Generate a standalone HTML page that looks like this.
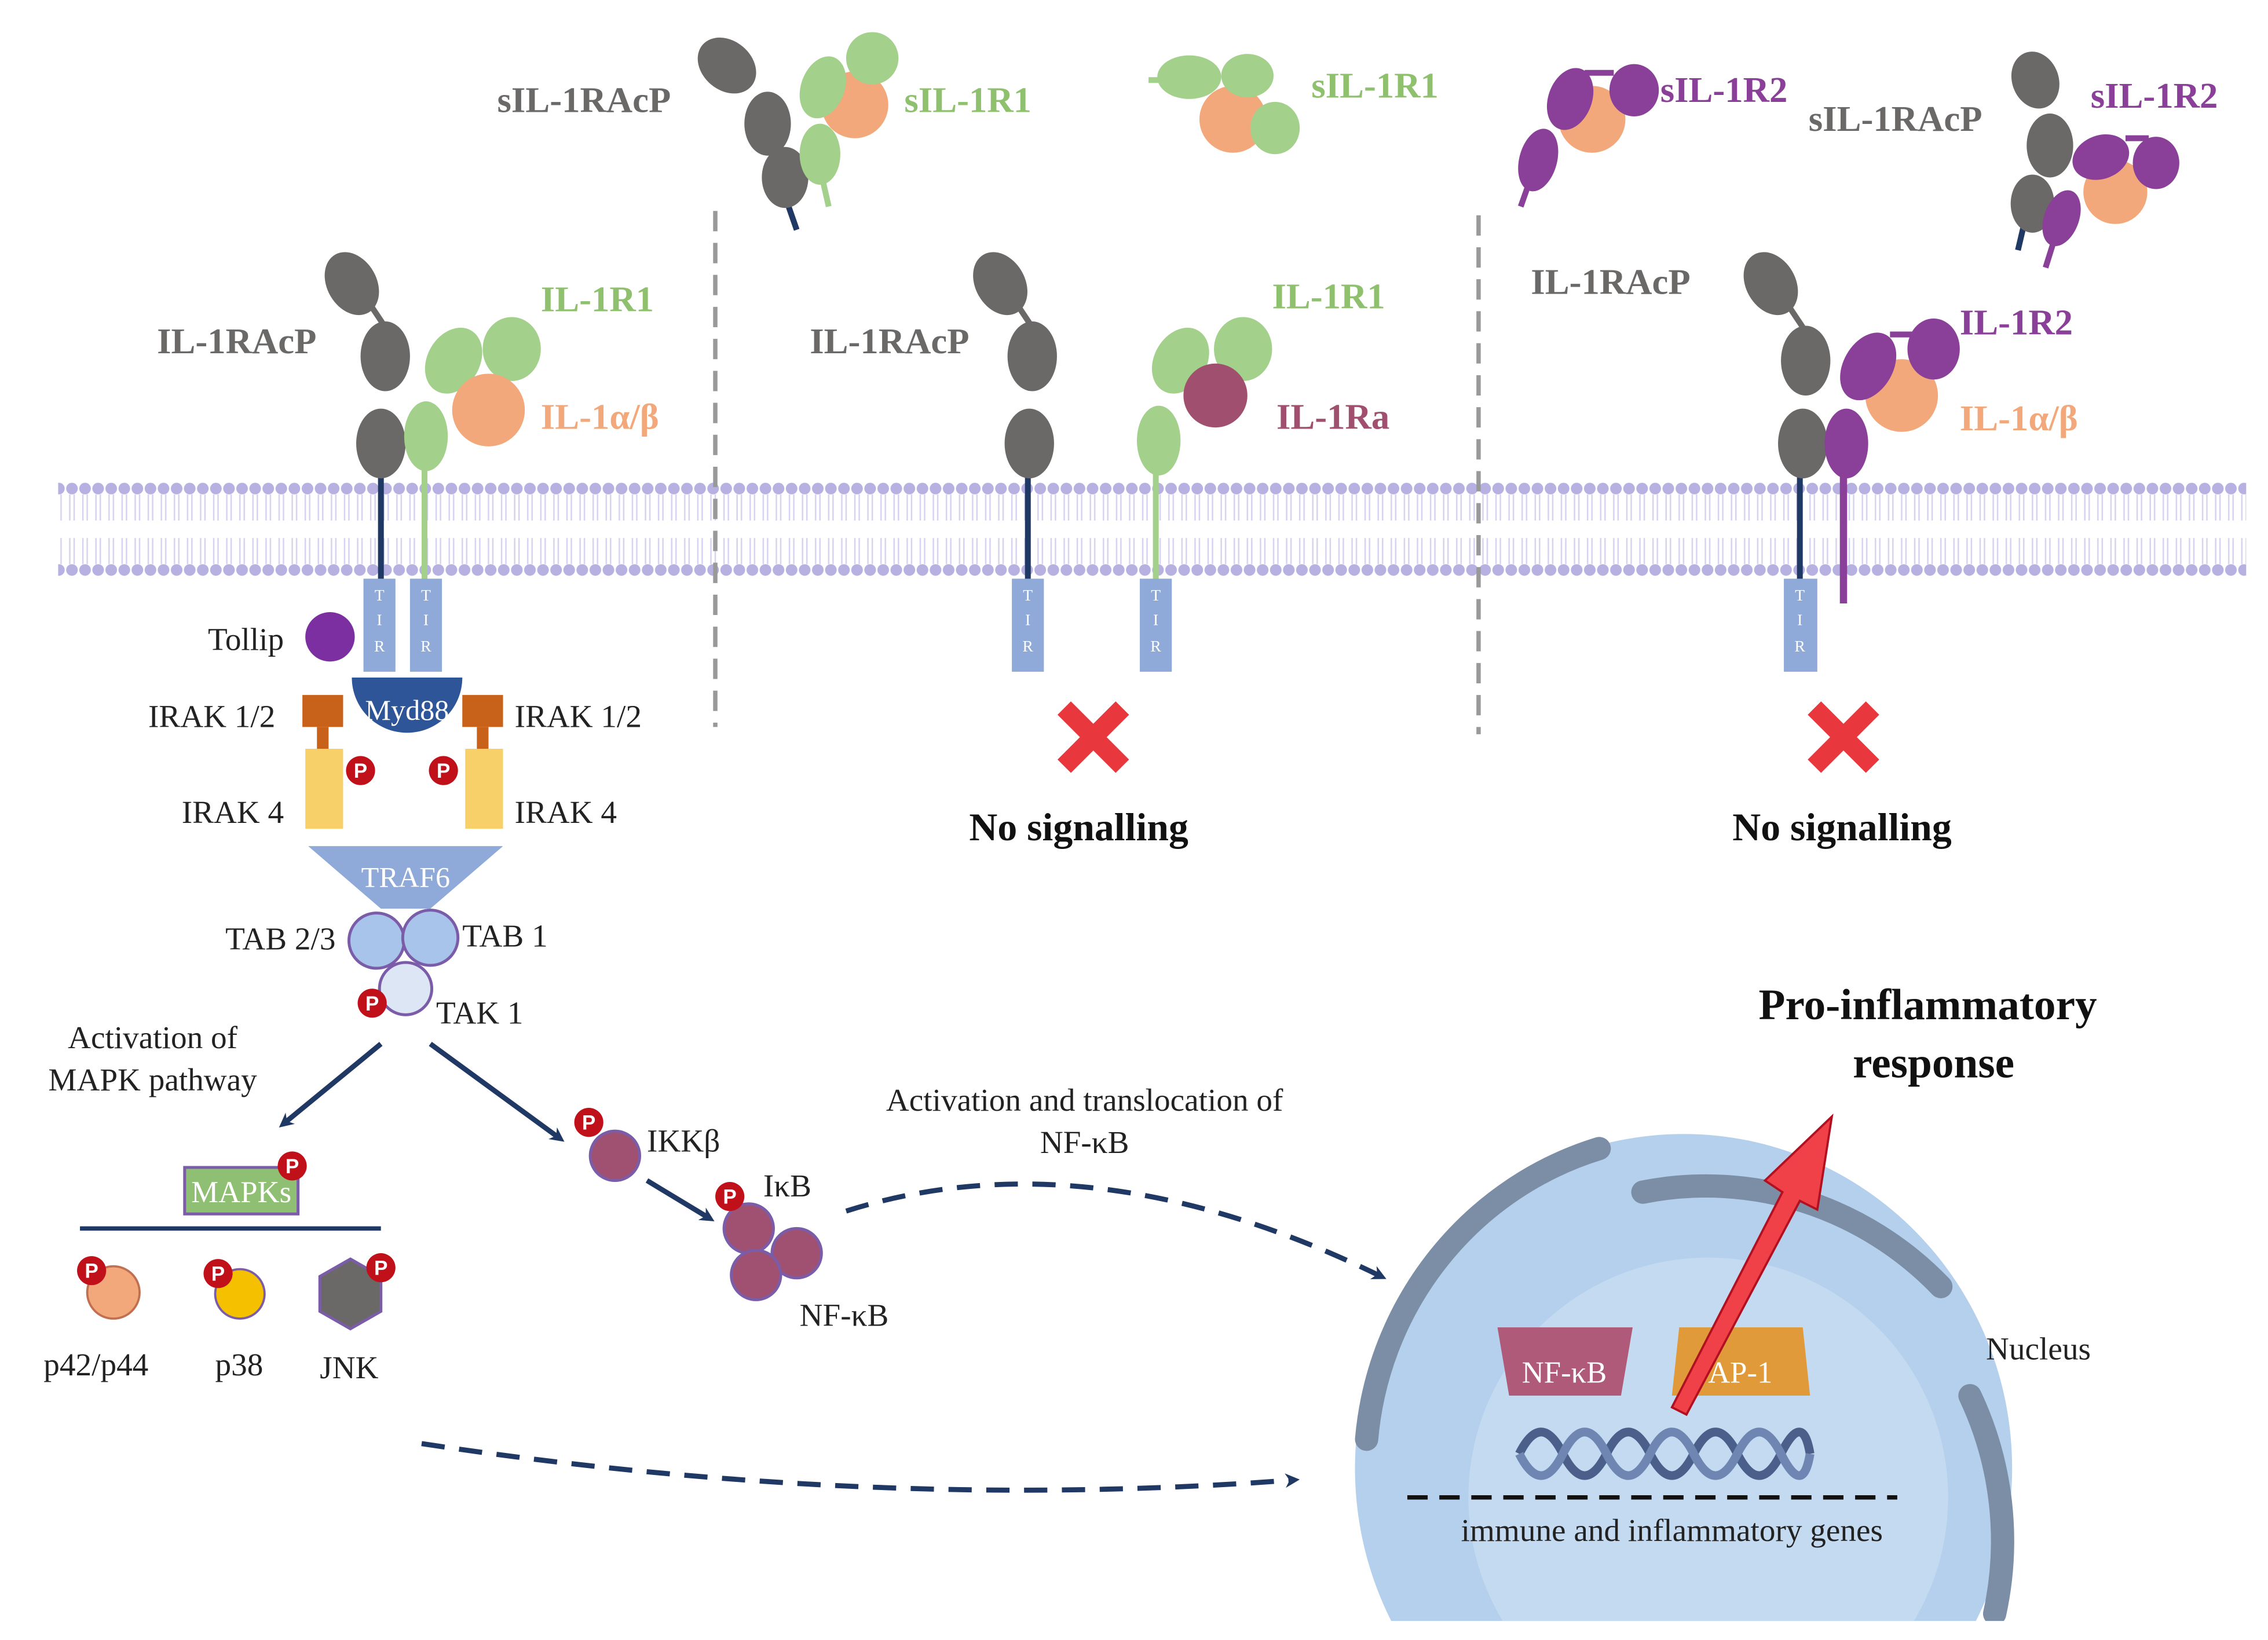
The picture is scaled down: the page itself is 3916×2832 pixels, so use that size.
<!DOCTYPE html>
<html><head><meta charset="utf-8"><style>html,body{margin:0;padding:0;background:#fff;overflow:hidden;width:3916px;height:2832px}svg{display:block}</style></head>
<body>
<svg width="3916" height="2832" viewBox="0 0 1560 1128" xmlns="http://www.w3.org/2000/svg" font-family="'Liberation Serif', serif">
<defs>
<pattern id="lip" x="0" y="330" width="9" height="70" patternUnits="userSpaceOnUse">
<circle cx="4.5" cy="6" r="4" fill="#b7b1e2"/>
<circle cx="4.5" cy="62" r="4" fill="#b7b1e2"/>
<path d="M3 10 L3 28 M6 10 L6 28 M3 40 L3 58 M6 40 L6 58" stroke="#d6d2f0" stroke-width="1"/>
</pattern>
<marker id="ah" markerWidth="10" markerHeight="10" refX="6" refY="5" orient="auto" markerUnits="userSpaceOnUse"><path d="M0 0 L10 5 L0 10 L3 5 Z" fill="#1f3864"/></marker>
<clipPath id="nc"><rect x="0" y="0" width="1560" height="1115"/></clipPath>
</defs>
<rect x="40" y="330" width="1505" height="70" fill="url(#lip)"/>
<line x1="492" y1="145" x2="492" y2="500" stroke="#999" stroke-width="3" stroke-dasharray="14,8"/>
<line x1="1017" y1="148" x2="1017" y2="505" stroke="#999" stroke-width="3" stroke-dasharray="14,8"/>

<!-- LEFT receptor -->
<line x1="262" y1="325" x2="262" y2="400" stroke="#1f3864" stroke-width="4"/>
<line x1="292" y1="320" x2="292" y2="400" stroke="#a3d08a" stroke-width="4"/>
<g fill="#6b6868"><ellipse cx="242" cy="195" rx="17" ry="23" transform="rotate(-30 242 195)"/><line x1="255" y1="210" x2="265" y2="225" stroke="#6b6868" stroke-width="4"/><ellipse cx="265" cy="245" rx="17" ry="24"/><ellipse cx="262" cy="305" rx="17" ry="24"/></g>
<g fill="#a3d08a"><ellipse cx="312" cy="248" rx="18" ry="24" transform="rotate(30 312 248)"/><ellipse cx="352" cy="240" rx="20" ry="22"/><ellipse cx="293" cy="300" rx="15" ry="24"/></g>
<circle cx="336" cy="282" r="25" fill="#f2a87a"/>
<rect x="250" y="398" width="22" height="64" fill="#8fa9d8"/><rect x="282" y="398" width="22" height="64" fill="#8fa9d8"/>
<g font-size="11" fill="#fff" text-anchor="middle"><text x="261" y="413">T</text><text x="261" y="430">I</text><text x="261" y="448">R</text><text x="293" y="413">T</text><text x="293" y="430">I</text><text x="293" y="448">R</text></g>
<circle cx="227" cy="438" r="17" fill="#7b2fa0"/>
<path d="M242 466 A38 38 0 0 0 318 466 Z" fill="#2d5597"/>
<text x="280" y="495" font-size="20" fill="#fff" text-anchor="middle">Myd88</text>
<rect x="208" y="478" width="28" height="22" fill="#c8621b"/><rect x="218" y="500" width="8" height="16" fill="#c8621b"/>
<rect x="318" y="478" width="28" height="22" fill="#c8621b"/><rect x="328" y="500" width="8" height="16" fill="#c8621b"/>
<rect x="210" y="515" width="26" height="55" fill="#f7d06a"/><rect x="320" y="515" width="26" height="55" fill="#f7d06a"/>
<path d="M212 582 L346 582 L296 625 L262 625 Z" fill="#8fa9d8"/>
<text x="279" y="610" font-size="20" fill="#fff" text-anchor="middle">TRAF6</text>
<g stroke="#7a5ca8" stroke-width="2"><circle cx="259" cy="647" r="19" fill="#a9c4ea"/><circle cx="296" cy="645" r="19" fill="#a9c4ea"/><circle cx="279" cy="680" r="18" fill="#dde6f5"/></g>
<g font-size="22" fill="#222">
<text x="143" y="447">Tollip</text>
<text x="102" y="500">IRAK 1/2</text><text x="354" y="500">IRAK 1/2</text>
<text x="125" y="566">IRAK 4</text><text x="354" y="566">IRAK 4</text>
<text x="155" y="653">TAB 2/3</text><text x="318" y="651">TAB 1</text>
<text x="300" y="704">TAK 1</text>
<text x="105" y="721" text-anchor="middle">Activation of</text><text x="105" y="750" text-anchor="middle">MAPK pathway</text>
<text x="30" y="946">p42/p44</text><text x="148" y="946">p38</text><text x="220" y="948">JNK</text>
<text x="445" y="792">IKKβ</text><text x="525" y="823">IκB</text><text x="550" y="912">NF-κB</text>
<text x="746" y="764" text-anchor="middle">Activation and translocation of</text><text x="746" y="793" text-anchor="middle">NF-κB</text>
</g>
<line x1="262" y1="718" x2="195" y2="773" stroke="#1f3864" stroke-width="3.5" marker-end="url(#ah)"/>
<line x1="296" y1="718" x2="385" y2="783" stroke="#1f3864" stroke-width="3.5" marker-end="url(#ah)"/>
<rect x="127" y="803" width="78" height="32" fill="#8fbf73" stroke="#7a5ca8" stroke-width="2"/>
<text x="166" y="827" font-size="21" fill="#fff" text-anchor="middle">MAPKs</text>
<line x1="55" y1="845" x2="262" y2="845" stroke="#1f3864" stroke-width="3"/>
<circle cx="78" cy="889" r="18" fill="#f2a87a" stroke="#c07050" stroke-width="1.5"/>
<circle cx="165" cy="890" r="17" fill="#f5c000" stroke="#7a5ca8" stroke-width="1.5"/>
<polygon points="241,866 262,878 262,902 241,914 220,902 220,878" fill="#6b6868" stroke="#7a5ca8" stroke-width="2"/>
<g stroke="#7a5ca8" stroke-width="2" fill="#a05070"><circle cx="423" cy="795" r="17"/><circle cx="515" cy="845" r="17"/><circle cx="548" cy="862" r="17"/><circle cx="520" cy="877" r="17"/></g>
<line x1="445" y1="812" x2="488" y2="838" stroke="#1f3864" stroke-width="3.5" marker-end="url(#ah)"/>
<g font-size="14" font-weight="bold" fill="#fff" text-anchor="middle" font-family="'Liberation Sans',sans-serif">
<g><circle cx="248" cy="530" r="10" fill="#c0101a"/><text x="248" y="535">P</text></g>
<g><circle cx="305" cy="530" r="10" fill="#c0101a"/><text x="305" y="535">P</text></g>
<g><circle cx="256" cy="690" r="10" fill="#c0101a"/><text x="256" y="695">P</text></g>
<g><circle cx="201" cy="802" r="10" fill="#c0101a"/><text x="201" y="807">P</text></g>
<g><circle cx="63" cy="874" r="10" fill="#c0101a"/><text x="63" y="879">P</text></g>
<g><circle cx="150" cy="876" r="10" fill="#c0101a"/><text x="150" y="881">P</text></g>
<g><circle cx="262" cy="872" r="10" fill="#c0101a"/><text x="262" y="877">P</text></g>
<g><circle cx="405" cy="772" r="10" fill="#c0101a"/><text x="405" y="777">P</text></g>
<g><circle cx="502" cy="823" r="10" fill="#c0101a"/><text x="502" y="828">P</text></g>
</g>
<path d="M582 833 Q750 780 950 878" fill="none" stroke="#1f3864" stroke-width="3.5" stroke-dasharray="16,10" marker-end="url(#ah)"/>
<path d="M290 993 Q600 1040 890 1018" fill="none" stroke="#1f3864" stroke-width="3.5" stroke-dasharray="16,10" marker-end="url(#ah)"/>

<!-- nucleus -->
<g clip-path="url(#nc)">
<ellipse cx="1158" cy="1010" rx="226" ry="230" fill="#b4d0ec"/>
<circle cx="1175" cy="1030" r="165" fill="#c3daf0"/>
<g fill="none" stroke="#7b8ea6" stroke-width="16" stroke-linecap="round">
<path d="M940 990 A226 230 0 0 1 1100 790"/>
<path d="M1130 820 A226 230 0 0 1 1335 885"/>
<path d="M1355 960 A226 230 0 0 1 1372 1110"/>
</g>
</g>
<text x="1366" y="935" font-size="22" fill="#222">Nucleus</text>
<path d="M1030 913 L1123 913 L1115 960 L1038 960 Z" fill="#b05a7a"/>
<path d="M1155 913 L1240 913 L1245 960 L1150 960 Z" fill="#e09a3a"/>
<text x="1076" y="951" font-size="21" fill="#fff" text-anchor="middle">NF-κB</text>
<text x="1197" y="951" font-size="21" fill="#fff" text-anchor="middle">AP-1</text>
<path d="M1045 1000 Q1060 970 1075 1000 T1105 1000 T1135 1000 T1165 1000 T1195 1000 T1225 1000 T1245 1000" fill="none" stroke="#4a5f8a" stroke-width="6"/>
<path d="M1045 1000 Q1060 1030 1075 1000 T1105 1000 T1135 1000 T1165 1000 T1195 1000 T1225 1000 T1245 1000" fill="none" stroke="#6f86b3" stroke-width="6"/>
<line x1="968" y1="1030" x2="1305" y2="1030" stroke="#111" stroke-width="3" stroke-dasharray="14,8"/>
<text x="1150" y="1060" font-size="22" fill="#222" text-anchor="middle">immune and inflammatory genes</text>
<path d="M1150 968 L1226 820 L1214 812 L1260 768 L1250 832 L1238 826 L1160 973 Z" fill="#f04048" stroke="#b01020" stroke-width="1.5"/>
<text x="1326" y="701" font-size="30" font-weight="bold" fill="#111" text-anchor="middle">Pro-inflammatory</text>
<text x="1330" y="741" font-size="30" font-weight="bold" fill="#111" text-anchor="middle">response</text>

<!-- MIDDLE receptor -->
<line x1="707" y1="325" x2="707" y2="400" stroke="#1f3864" stroke-width="4"/>
<line x1="795" y1="320" x2="795" y2="400" stroke="#a3d08a" stroke-width="4"/>
<g fill="#6b6868"><ellipse cx="688" cy="195" rx="17" ry="23" transform="rotate(-30 688 195)"/><line x1="700" y1="210" x2="710" y2="225" stroke="#6b6868" stroke-width="4"/><ellipse cx="710" cy="245" rx="17" ry="24"/><ellipse cx="708" cy="305" rx="17" ry="24"/></g>
<g fill="#a3d08a"><ellipse cx="812" cy="248" rx="18" ry="24" transform="rotate(30 812 248)"/><ellipse cx="855" cy="240" rx="20" ry="22"/><ellipse cx="797" cy="303" rx="15" ry="24"/></g>
<circle cx="836" cy="272" r="22" fill="#a0506e"/>
<rect x="696" y="398" width="22" height="64" fill="#8fa9d8"/><rect x="784" y="398" width="22" height="64" fill="#8fa9d8"/>
<g font-size="11" fill="#fff" text-anchor="middle"><text x="707" y="413">T</text><text x="707" y="430">I</text><text x="707" y="448">R</text><text x="795" y="413">T</text><text x="795" y="430">I</text><text x="795" y="448">R</text></g>
<path d="M732 487 L772 527 M772 487 L732 527" stroke="#e8383d" stroke-width="13"/>
<text x="742" y="578" font-size="27" font-weight="bold" fill="#111" text-anchor="middle">No signalling</text>

<!-- RIGHT receptor -->
<line x1="1238" y1="325" x2="1238" y2="400" stroke="#1f3864" stroke-width="4"/>
<line x1="1268" y1="320" x2="1268" y2="415" stroke="#8a3f98" stroke-width="5"/>
<g fill="#6b6868"><ellipse cx="1218" cy="195" rx="17" ry="23" transform="rotate(-30 1218 195)"/><line x1="1230" y1="210" x2="1240" y2="225" stroke="#6b6868" stroke-width="4"/><ellipse cx="1242" cy="248" rx="17" ry="24"/><ellipse cx="1240" cy="305" rx="17" ry="24"/></g>
<circle cx="1308" cy="272" r="25" fill="#f2a87a"/>
<g fill="#8a3f98"><ellipse cx="1285" cy="252" rx="17" ry="25" transform="rotate(30 1285 252)"/><ellipse cx="1330" cy="240" rx="18" ry="21"/><ellipse cx="1270" cy="305" rx="15" ry="24"/><line x1="1300" y1="230" x2="1318" y2="230" stroke="#8a3f98" stroke-width="4"/></g>
<rect x="1227" y="398" width="23" height="64" fill="#8fa9d8"/>
<g font-size="11" fill="#fff" text-anchor="middle"><text x="1238" y="413">T</text><text x="1238" y="430">I</text><text x="1238" y="448">R</text></g>
<path d="M1248 487 L1288 527 M1288 487 L1248 527" stroke="#e8383d" stroke-width="13"/>
<text x="1267" y="578" font-size="27" font-weight="bold" fill="#111" text-anchor="middle">No signalling</text>

<!-- TOP soluble -->
<line x1="540" y1="135" x2="548" y2="158" stroke="#1f3864" stroke-width="4"/>
<line x1="565" y1="120" x2="570" y2="142" stroke="#a3d08a" stroke-width="4"/>
<g fill="#6b6868"><ellipse cx="500" cy="45" rx="17" ry="22" transform="rotate(-50 500 45)"/><ellipse cx="528" cy="85" rx="16" ry="22"/><ellipse cx="540" cy="122" rx="16" ry="21"/></g>
<circle cx="588" cy="72" r="23" fill="#f2a87a"/>
<g fill="#a3d08a"><ellipse cx="566" cy="60" rx="15" ry="22" transform="rotate(20 566 60)"/><ellipse cx="600" cy="40" rx="18" ry="18"/><ellipse cx="564" cy="106" rx="14" ry="21"/></g>
<line x1="790" y1="55" x2="800" y2="55" stroke="#a3d08a" stroke-width="4"/>
<circle cx="848" cy="82" r="23" fill="#f2a87a"/>
<g fill="#a3d08a"><ellipse cx="818" cy="53" rx="22" ry="15"/><ellipse cx="858" cy="52" rx="18" ry="15"/><ellipse cx="877" cy="88" rx="17" ry="18"/></g>
<circle cx="1095" cy="82" r="23" fill="#f2a87a"/>
<g fill="#8a3f98"><ellipse cx="1080" cy="68" rx="15" ry="22" transform="rotate(20 1080 68)"/><ellipse cx="1124" cy="62" rx="17" ry="18"/><ellipse cx="1058" cy="110" rx="13" ry="22" transform="rotate(15 1058 110)"/><line x1="1090" y1="50" x2="1110" y2="50" stroke="#8a3f98" stroke-width="4"/><line x1="1052" y1="125" x2="1046" y2="142" stroke="#8a3f98" stroke-width="4"/></g>
<line x1="1392" y1="155" x2="1388" y2="172" stroke="#1f3864" stroke-width="4"/>
<g fill="#6b6868"><ellipse cx="1400" cy="55" rx="16" ry="20" transform="rotate(-20 1400 55)"/><ellipse cx="1410" cy="100" rx="16" ry="22"/><ellipse cx="1398" cy="140" rx="15" ry="20"/></g>
<circle cx="1455" cy="132" r="22" fill="#f2a87a"/>
<g fill="#8a3f98"><ellipse cx="1445" cy="108" rx="20" ry="15" transform="rotate(-20 1445 108)"/><ellipse cx="1483" cy="112" rx="16" ry="18"/><ellipse cx="1418" cy="150" rx="12" ry="20" transform="rotate(20 1418 150)"/><line x1="1462" y1="95" x2="1478" y2="95" stroke="#8a3f98" stroke-width="4"/><line x1="1412" y1="168" x2="1407" y2="184" stroke="#8a3f98" stroke-width="4"/></g>

<g font-size="25" font-weight="bold">
<text x="342" y="77" fill="#6b6868">sIL-1RAcP</text>
<text x="622" y="77" fill="#8fc06e">sIL-1R1</text>
<text x="902" y="67" fill="#8fc06e">sIL-1R1</text>
<text x="1142" y="70" fill="#8a3f98">sIL-1R2</text>
<text x="1244" y="90" fill="#6b6868">sIL-1RAcP</text>
<text x="1438" y="74" fill="#8a3f98">sIL-1R2</text>
<text x="108" y="243" fill="#6b6868">IL-1RAcP</text>
<text x="372" y="214" fill="#8fc06e">IL-1R1</text>
<text x="372" y="295" fill="#f2a87a">IL-1α/β</text>
<text x="557" y="243" fill="#6b6868">IL-1RAcP</text>
<text x="875" y="212" fill="#8fc06e">IL-1R1</text>
<text x="878" y="295" fill="#a0506e">IL-1Ra</text>
<text x="1053" y="202" fill="#6b6868">IL-1RAcP</text>
<text x="1348" y="230" fill="#8a3f98">IL-1R2</text>
<text x="1348" y="296" fill="#f2a87a">IL-1α/β</text>
</g>
</svg>
</body></html>
